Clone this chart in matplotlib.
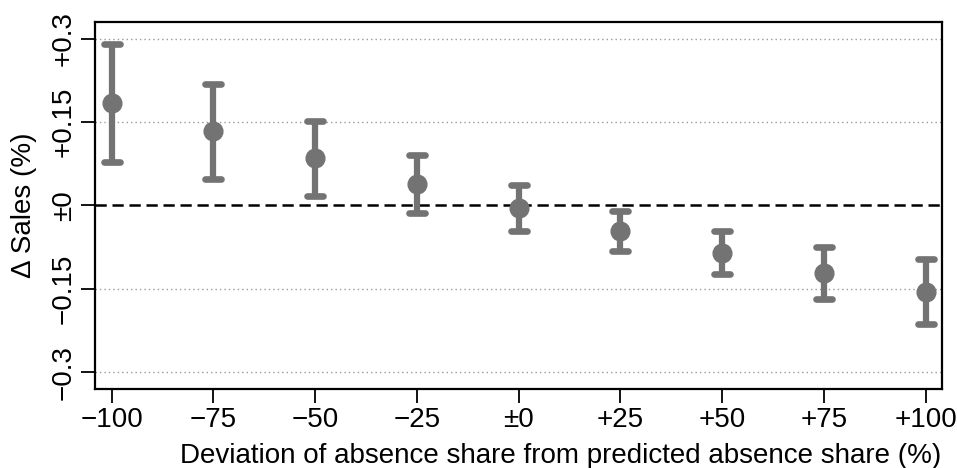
import matplotlib
matplotlib.use("Agg")
import matplotlib.pyplot as plt
from matplotlib.markers import MarkerStyle
import numpy as np

# Data
x_vals = [-100, -75, -50, -25, 0, 25, 50, 75, 100]
estimates = [0.184, 0.134, 0.085, 0.039, -0.004, -0.046, -0.085, -0.121, -0.155]
upper = [0.291, 0.219, 0.1525, 0.091, 0.036, -0.010, -0.046, -0.074, -0.097]
lower = [0.078, 0.047, 0.017, -0.014, -0.046, -0.082, -0.124, -0.169, -0.214]
x_ticklabels = ["\u2212100", "\u221275", "\u221250", "\u221225", "\u00b10", "+25", "+50", "+75", "+100"]
y_ticks = [-0.3, -0.15, 0, 0.15, 0.3]
y_ticklabels = ["\u22120.3", "\u22120.15", "\u00b10", "+0.15", "+0.3"]

plt.rcParams['font.family'] = ['Liberation Sans', 'DejaVu Sans']

fig = plt.figure(figsize=(9.57, 4.68), dpi=100)
ax = fig.add_axes([0.0993, 0.1688, 0.9847 - 0.0993, 0.952 - 0.1688])

est = np.array(estimates)
yerr = np.vstack([est - np.array(lower), np.array(upper) - est])
col = "#737373"

# grid lines
for yv in [-0.3, -0.15, 0.15, 0.3]:
    ax.axhline(yv, color="#9a9a9a", linestyle=(0, (1, 2.2)), linewidth=1.0, zorder=1)
ax.axhline(0, color="black", linestyle=(0, (4.5, 2.3)), linewidth=1.8, zorder=1)

eb = ax.errorbar(x_vals, est, yerr=yerr, fmt='o', color=col, ecolor=col,
                 markersize=13.5, elinewidth=4.5, capsize=5.5, capthick=4.8, zorder=3)
for cl in eb[1]:
    cl.set_marker(MarkerStyle('_', capstyle='round'))
for lc in eb[2]:
    lc.set_capstyle('butt')

ax.set_xlim(-104.1, 104.1)
ax.set_ylim(-0.33, 0.329)
ax.set_xticks(x_vals)
ax.set_xticklabels(x_ticklabels)
ax.set_yticks(y_ticks)
ax.set_yticklabels(y_ticklabels, rotation=90, va='center')

ax.tick_params(axis='both', direction='out', length=10, width=1.3, labelsize=20, color='black')
ax.tick_params(axis='x', pad=3)
ax.tick_params(axis='y', pad=3)
for s in ax.spines.values():
    s.set_linewidth(1.6)
    s.set_color('black')

ax.set_xlabel("Deviation of absence share from predicted absence share (%)", fontsize=20,
              labelpad=7, x=0.55)
ax.set_ylabel("\u0394 Sales (%)", fontsize=20, labelpad=10)

fig.savefig("out.png", dpi=100)
